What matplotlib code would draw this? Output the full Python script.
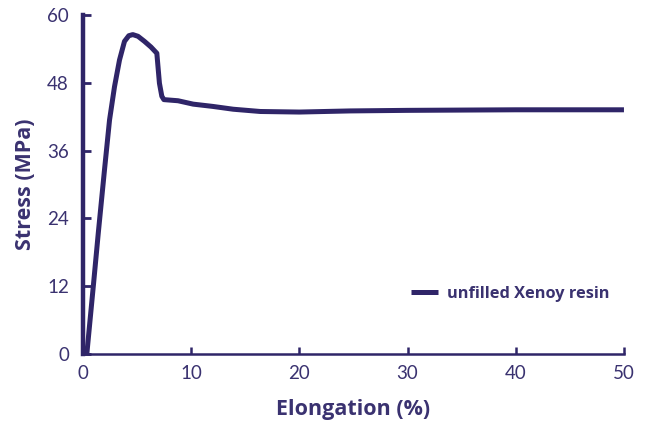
import matplotlib.pyplot as plt

# stress-strain curve, unfilled Xenoy resin
elongation = [0.37, 1.0, 1.43, 2.0, 2.47, 2.93, 3.39, 3.85, 4.25, 4.62, 5.1, 5.7, 6.3, 6.84, 7.08, 7.3, 7.49, 8.8, 10.2, 12.0, 13.9, 16.4, 20.0, 24.7, 30.0, 40.0, 50.0]
stress = [0.0, 12.6, 21.4, 32.5, 41.4, 47.3, 52.0, 55.3, 56.3, 56.5, 56.2, 55.3, 54.3, 53.2, 47.9, 45.6, 45.0, 44.8, 44.2, 43.8, 43.3, 42.9, 42.8, 43.0, 43.1, 43.2, 43.2]

purple = '#2f2568'
text_col = '#3a3270'

plt.rcParams['font.family'] = ['Open Sans', 'DejaVu Sans']

fig = plt.figure(figsize=(6.52, 4.23), dpi=100)
ax = fig.add_axes([0.127, 0.163, 0.83, 0.802])

ax.plot(elongation, stress, color=purple, lw=3.6, solid_joinstyle='round',
        solid_capstyle='butt', label='unfilled Xenoy resin')

ax.set_xlim(0, 50)
ax.set_ylim(0, 60)
ax.set_xticks([0, 10, 20, 30, 40, 50])
ax.set_yticks([0, 12, 24, 36, 48, 60])

for s in ['top', 'right']:
    ax.spines[s].set_visible(False)
ax.spines['left'].set_linewidth(3.2)
ax.spines['bottom'].set_linewidth(1.8)
ax.spines['left'].set_color(purple)
ax.spines['bottom'].set_color(purple)

ax.tick_params(axis='y', direction='in', length=6, width=2, color=purple,
               labelsize=13.5, labelcolor=text_col, pad=10)
ax.tick_params(axis='x', direction='in', length=5, width=1.8, color=purple,
               labelsize=13.5, labelcolor=text_col, pad=8)
for lbl in ax.get_xticklabels() + ax.get_yticklabels():
    lbl.set_fontfamily(['Lato', 'DejaVu Sans'])
    lbl.set_fontweight('normal')

ax.set_xlabel('Elongation (%)', fontsize=15.5, fontweight='bold', color=text_col, labelpad=12)
ax.set_ylabel('Stress (MPa)', fontsize=15.5, fontweight='bold', color=text_col, labelpad=8)

leg = ax.legend(loc='lower right', bbox_to_anchor=(1.0, 0.11), frameon=False,
                handlelength=1.6, handletextpad=0.55, fontsize=11.8)
for t in leg.get_texts():
    t.set_color(text_col)
    t.set_fontweight('bold')

fig.savefig('out.png', dpi=100)
